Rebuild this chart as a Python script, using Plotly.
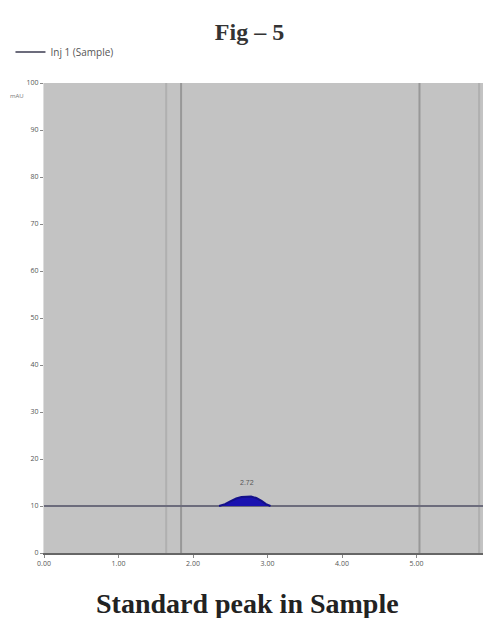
import plotly.graph_objects as go

# Data
baseline_time = [0.0, 0.5, 1.0, 1.5, 2.0, 2.3, 3.1, 3.5, 4.0, 4.5, 5.0, 5.5, 6.0]
baseline_signal = [10.0, 10.0, 10.0, 10.0, 10.0, 10.0, 10.0, 10.0, 10.0, 10.0, 10.0, 10.0, 10.0]
peak_time = [2.35, 2.43, 2.50, 2.58, 2.65, 2.72, 2.78, 2.85, 2.92, 2.98, 3.04]
peak_signal = [10.0, 10.4, 11.0, 11.6, 11.9, 12.0, 12.0, 11.7, 11.1, 10.4, 10.0]
peak_label = "2.72"
event_times = [1.64, 1.84, 5.04, 5.84]
event_strength = [0.2, 0.45, 0.45, 0.2]
x_ticks = [0, 1, 2, 3, 4, 5, 6]
y_ticks = [0, 10, 20, 30, 40, 50, 60, 70, 80, 90, 100]
legend_name = "Inj 1 (Sample)"

fig = go.Figure()

fig.add_trace(go.Scatter(
    x=baseline_time, y=baseline_signal, mode="lines",
    line=dict(color="#6c6c7c", width=2), name=legend_name, showlegend=True,
))
fig.add_trace(go.Scatter(
    x=peak_time, y=peak_signal, mode="lines", fill="toself",
    fillcolor="#1a12b0", line=dict(color="#14108a", width=2), showlegend=False,
))

for t, s in zip(event_times, event_strength):
    fig.add_shape(type="line", xref="x", yref="paper", x0=t, x1=t, y0=0, y1=1,
                  line=dict(color=f"rgba(100,100,100,{s})", width=2), layer="below")

pk = peak_signal.index(max(peak_signal))
fig.add_annotation(x=peak_time[pk], y=peak_signal[pk], text=peak_label, showarrow=False,
                   yshift=14, font=dict(size=7, color="#555555", family="Liberation Sans"))

fig.add_annotation(xref="paper", yref="paper", x=-0.08, y=0.985, text="mAU", showarrow=False,
                   font=dict(size=6, color="#777777"), xanchor="left")

fig.add_annotation(xref="paper", yref="paper", x=0.455, y=-0.108, yanchor="middle",
                   text="<b>Standard peak in Sample</b>", showarrow=False,
                   font=dict(size=28, color="#222222", family="Liberation Serif"))

fig.update_layout(
    width=483, height=610,
    margin=dict(l=36, r=0, t=75, b=65, autoexpand=False),
    paper_bgcolor="white", plot_bgcolor="#c3c3c3",
    title=dict(text="<b>Fig – 5</b>", x=0.5, xanchor="center", y=0.962, yanchor="middle",
               font=dict(size=24, color="#333333", family="Liberation Serif")),
    legend=dict(x=-0.075, y=1.066, xanchor="left", yanchor="middle", bgcolor="rgba(0,0,0,0)",
                font=dict(size=10, color="#555555"), itemwidth=30),
    showlegend=True,
    xaxis=dict(range=[0, 6], tickvals=x_ticks, tickformat=".2f", showgrid=False, zeroline=False,
               showline=True, linecolor="#666666", linewidth=2, ticks="outside", ticklen=3,
               tickcolor="#888888", tickfont=dict(size=7, color="#555555"), automargin=False),
    yaxis=dict(range=[0, 100], tickvals=y_ticks, showgrid=False, zeroline=False,
               showline=True, linecolor="#dddddd", ticks="outside", ticklen=3,
               tickcolor="#888888", tickfont=dict(size=7, color="#555555"), automargin=False),
)

fig.write_html("out.html")
